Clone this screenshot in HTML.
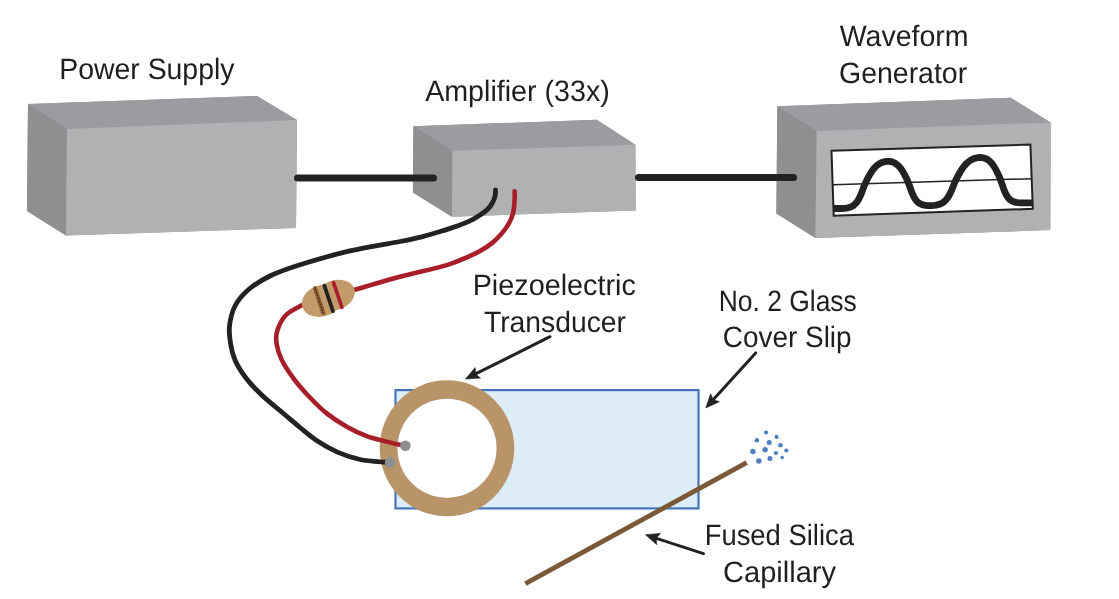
<!DOCTYPE html>
<html><head><meta charset="utf-8">
<style>
html,body{margin:0;padding:0;background:#fff;}
svg{display:block;will-change:transform;}
text{font-family:"Liberation Sans",sans-serif;fill:#1f1f1f;font-size:29.5px;text-rendering:geometricPrecision;stroke:none;}
</style></head>
<body>
<svg width="1119" height="599" viewBox="0 0 1119 599">
<defs>
<clipPath id="scr"><polygon points="831.5,150.7 1030.4,144.5 1032.8,208.8 833.7,215.7"/></clipPath>
</defs>
<!-- Power supply -->
<polygon points="28,104 257,96 297,120 296,228 66,235.5 27,211" fill="#9a9b9e"/>
<polygon points="28,104 257,96 297,120 67,129" fill="#9b9c9f"/>
<polygon points="28,104 67,129 66,235.5 27,211" fill="#8e8f91"/>
<polygon points="67,129 297,120 296,228 66,235.5" fill="#b0b1b3"/>
<!-- Amplifier -->
<polygon points="413.4,126.3 596.7,119.8 635.4,144.7 635.7,210.4 452,216.7 412.9,192.5" fill="#9a9b9e"/>
<polygon points="413.4,126.3 596.7,119.8 635.4,144.7 452.5,150.7" fill="#9b9c9f"/>
<polygon points="413.4,126.3 452.5,150.7 452,216.7 412.9,192.5" fill="#8e8f91"/>
<polygon points="452.5,150.7 635.4,144.7 635.7,210.4 452,216.7" fill="#b0b1b3"/>
<!-- Waveform generator -->
<polygon points="777.3,106.3 1010.7,97.7 1050.7,122.4 1050.3,230.1 815.4,238.1 776.4,213.4" fill="#9a9b9e"/>
<polygon points="777.3,106.3 1010.7,97.7 1050.7,122.4 816.7,131" fill="#9b9c9f"/>
<polygon points="777.3,106.3 816.7,131 815.4,238.1 776.4,213.4" fill="#8e8f91"/>
<polygon points="816.7,131 1050.7,122.4 1050.3,230.1 815.4,238.1" fill="#b0b1b3"/>
<polygon points="831.5,150.7 1030.4,144.5 1032.8,208.8 833.7,215.7" fill="#fff" stroke="#222222" stroke-width="2"/>
<line x1="833" y1="184.7" x2="1031" y2="178.7" stroke="#222222" stroke-width="1.5"/>
<g clip-path="url(#scr)">
<path d="M826,208.50 L828,208.50 L830,208.50 L832,208.50 L834,208.50 L836,208.50 L838,208.50 L840,208.50 L842,208.49 L844,208.39 L846,208.18 L848,207.81 L850,207.25 L852,206.38 L854,205.07 L856,203.15 L858,200.40 L860,196.63 L862,191.85 L864,186.33 L866,181.81 L868,177.84 L870,174.22 L872,171.06 L874,168.41 L876,166.27 L878,164.59 L880,163.32 L882,162.40 L884,161.78 L886,161.42 L888,161.30 L890,161.44 L892,161.88 L894,162.64 L896,163.78 L898,165.38 L900,167.52 L902,170.26 L904,173.62 L906,177.52 L908,181.80 L910,187.22 L912,192.73 L914,197.11 L916,200.26 L918,202.37 L920,203.72 L922,204.58 L924,205.11 L926,205.41 L928,205.57 L930,205.60 L932,205.53 L934,205.38 L936,205.11 L938,204.69 L940,204.06 L942,203.14 L944,201.81 L946,199.90 L948,197.26 L950,193.74 L952,189.33 L954,184.23 L956,179.61 L958,175.81 L960,172.26 L962,169.07 L964,166.31 L966,163.99 L968,162.11 L970,160.62 L972,159.47 L974,158.61 L976,158.02 L978,157.66 L980,157.51 L982,157.58 L984,157.97 L986,158.70 L988,159.83 L990,161.43 L992,163.60 L994,166.41 L996,169.88 L998,173.95 L1000,178.42 L1002,184.10 L1004,189.84 L1006,194.37 L1008,197.57 L1010,199.69 L1012,201.03 L1014,201.86 L1016,202.37 L1018,202.66 L1020,202.78 L1022,202.80 L1024,202.80 L1026,202.80 L1028,202.80 L1030,202.80 L1032,202.80 L1034,202.80 L1036,202.80 L1038,202.80 L1040,202.80" fill="none" stroke="#222222" stroke-width="6.8" stroke-linecap="round" stroke-linejoin="round"/>
</g>
<!-- cables -->
<line x1="297.5" y1="178" x2="433.5" y2="178" stroke="#222222" stroke-width="7" stroke-linecap="round"/>
<line x1="638.5" y1="177.5" x2="793.5" y2="177.5" stroke="#222222" stroke-width="7" stroke-linecap="round"/>
<!-- cover slip -->
<rect x="395.5" y="390.1" width="303" height="118.3" fill="#ddedf8" stroke="#4674bb" stroke-width="2.2"/>
<!-- transducer ring -->
<circle cx="447.0" cy="448.3" r="49.6" fill="#fff"/>
<path fill="#b89468" fill-rule="evenodd" d="M379.7,448.3 A67.3,68.0 0 1 0 514.3,448.3 A67.3,68.0 0 1 0 379.7,448.3 Z M397.4,448.3 A49.6,49.6 0 1 0 496.6,448.3 A49.6,49.6 0 1 0 397.4,448.3 Z"/>
<!-- wires -->
<path d="M495.5,189.8 C495.4,190.8 495.6,193.8 495.1,195.9 C494.6,198.0 493.9,200.3 492.6,202.5 C491.4,204.7 489.7,207.1 487.6,209.2 C485.5,211.3 483.0,213.1 480.1,215 C477.2,216.9 473.8,219.1 470,220.9 C466.2,222.7 461.7,224.4 457.5,225.9 C453.3,227.4 451.0,228.3 445,230.1 C439.0,231.9 429.2,234.9 421.7,236.8 C414.2,238.7 411.9,239.2 400,241.5 C388.1,243.8 366.7,247.0 350,250.9 C333.3,254.8 313.3,260.6 300,264.8 C286.7,269.0 278.7,271.8 270,276 C261.3,280.2 253.8,285.0 248,290 C242.2,295.0 238.1,300.0 235,306 C231.9,312.0 230.2,319.8 229.5,326 C228.8,332.2 229.6,337.7 230.5,343.4 C231.4,349.1 232.6,354.4 235,360 C237.4,365.6 240.6,370.8 245,376.7 C249.4,382.6 255.3,389.0 261.7,395.1 C268.1,401.2 277.0,408.1 283.4,413.5 C289.8,418.9 294.3,422.9 300,427.5 C305.7,432.1 311.2,436.9 317.4,441 C323.6,445.1 330.3,449.0 337.4,452.1 C344.5,455.2 352.3,457.8 360.1,459.5 C367.9,461.2 379.2,461.7 384.2,462.1 C389.1,462.5 388.9,462.1 389.8,462.1" fill="none" stroke="#222222" stroke-width="4.8" stroke-linecap="round"/>
<path d="M514.6,191.4 C514.6,192.8 514.9,196.4 514.6,200 C514.4,203.6 514.0,209.2 513.1,213 C512.2,216.8 510.9,219.7 509.1,223 C507.3,226.3 505.0,229.7 502.1,233 C499.2,236.3 495.7,240.1 492,243.1 C488.3,246.1 484.0,248.8 480,251.1 C476.0,253.4 473.5,254.5 468,256.8 C462.5,259.1 458.1,261.8 446.8,265.1 C435.5,268.4 415.5,272.7 400,276.8 C384.5,280.9 361.7,287.8 354,290 M301.7,305.3 C299.1,306.9 290.0,310.9 286,315 C282.0,319.1 279.1,325.3 277.5,330 C275.9,334.7 275.8,338.4 276.5,343.4 C277.2,348.4 279.0,354.2 281.8,360 C284.6,365.8 289.1,372.4 293.5,378.4 C297.9,384.4 303.0,390.2 308.5,396 C314.0,401.8 320.3,408.3 326.7,413.4 C333.1,418.5 340.1,422.9 346.8,426.7 C353.5,430.5 360.4,433.7 366.8,436.1 C373.2,438.6 380.0,439.9 385.5,441.4 C391.0,442.8 396.4,444.1 399.6,444.8 C402.9,445.5 404.1,445.4 405,445.5" fill="none" stroke="#a81e28" stroke-width="4.6" stroke-linecap="round"/>
<!-- resistor -->
<g transform="translate(328.4,298) rotate(-18.5)">
<ellipse cx="-7" cy="0.6" rx="20.5" ry="15.6" fill="#c39a6a"/>
<ellipse cx="7" cy="-0.6" rx="20.5" ry="14.8" fill="#c39a6a"/>
<g stroke-linecap="round" fill="none">
<line x1="-9.6" y1="-13.6" x2="-9.6" y2="12.8" stroke="#8a5a33" stroke-width="4.2"/>
<line x1="-9.6" y1="-12.5" x2="-9.6" y2="12.5" stroke="#2a2018" stroke-width="0.9" stroke-dasharray="0.9 2.2"/>
<line x1="0.1" y1="-13" x2="0.1" y2="14" stroke="#222222" stroke-width="3.8"/>
<line x1="9.8" y1="-13" x2="9.8" y2="13.2" stroke="#a81e2a" stroke-width="3.6"/>
</g>
</g>
<circle cx="390" cy="462.5" r="5.2" fill="#8e8f91"/>
<circle cx="405.4" cy="445.7" r="5.3" fill="#8e8f91"/>
<!-- capillary -->
<line x1="525.4" y1="583.6" x2="746.7" y2="462.6" stroke="#7b5836" stroke-width="4.8"/>
<g fill="#4f7ec4">
<circle cx="766.05" cy="432.5" r="2.1"/><circle cx="776.6" cy="436.9" r="2.1"/><circle cx="756.9" cy="440.3" r="2.25"/>
<circle cx="769.2" cy="442.5" r="2.5"/><circle cx="780.5" cy="445.3" r="2.3"/><circle cx="765.05" cy="449.8" r="2.75"/>
<circle cx="752.9" cy="451.5" r="2.7"/><circle cx="786.3" cy="450.5" r="2.1"/><circle cx="775.9" cy="453" r="2.1"/>
<circle cx="769.9" cy="458.4" r="2.5"/><circle cx="782.2" cy="457.6" r="1.8"/><circle cx="758.8" cy="461.1" r="2.75"/>
</g>
<!-- arrows -->
<g stroke="#222222" stroke-width="3" stroke-linecap="round" fill="none">
<line x1="550" y1="336.7" x2="475.07" y2="374.21"/>
<line x1="755.7" y1="352.9" x2="712.94" y2="400.07"/>
<line x1="703.5" y1="553.6" x2="655.68" y2="538.06"/>
</g>
<g fill="#222222" stroke="#222222" stroke-width="0.6" stroke-linejoin="miter">
<polygon points="465.5,379 480.48,378.10 475.52,373.99 475.20,367.55"/>
<polygon points="705.75,408 719.39,401.74 713.27,399.70 710.65,393.81"/>
<polygon points="645.5,534.75 656.80,544.63 656.15,538.21 660.45,533.40"/>
</g>
<!-- labels -->
<text x="59.25" y="79" textLength="175.2" lengthAdjust="spacingAndGlyphs">Power Supply</text>
<text x="425.13" y="101" textLength="184.74" lengthAdjust="spacingAndGlyphs">Amplifier (33x)</text>
<text x="839.65" y="46" textLength="128.93" lengthAdjust="spacingAndGlyphs">Waveform</text>
<text x="839.0" y="83" textLength="128.16" lengthAdjust="spacingAndGlyphs">Generator</text>
<text x="472.63" y="295" textLength="163.23" lengthAdjust="spacingAndGlyphs">Piezoelectric</text>
<text x="483.97" y="332" textLength="142.05" lengthAdjust="spacingAndGlyphs">Transducer</text>
<text x="718.81" y="311" textLength="137.99" lengthAdjust="spacingAndGlyphs">No. 2 Glass</text>
<text x="722.85" y="347" textLength="128.7" lengthAdjust="spacingAndGlyphs">Cover Slip</text>
<text x="704.63" y="545" textLength="149.41" lengthAdjust="spacingAndGlyphs">Fused Silica</text>
<text x="723.08" y="582" textLength="112.97" lengthAdjust="spacingAndGlyphs">Capillary</text>
</svg>
</body></html>
